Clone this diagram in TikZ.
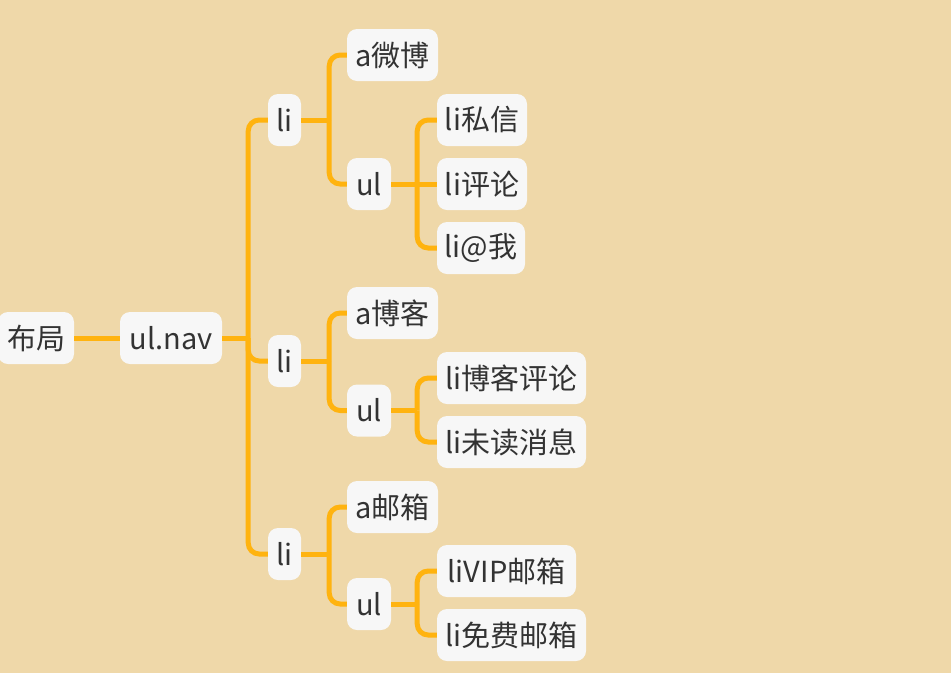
\documentclass[tikz,border=0pt]{standalone}
\usepackage{fontspec}
\setmainfont{Noto Sans CJK SC}
\definecolor{bg}{HTML}{EFD8A9}
\definecolor{ln}{HTML}{FFB30F}
\definecolor{bx}{HTML}{F7F7F7}
\definecolor{tx}{HTML}{333333}
\begin{document}
\begin{tikzpicture}[x=1pt,y=-1pt,
  box/.style={fill=bx, rounded corners=10pt, text=tx, font=\fontsize{29}{32}\selectfont, minimum height=52pt, inner sep=0pt, align=center},
  conn/.style={draw=ln, line width=5pt, rounded corners=11pt}]
\fill[bg] (0,0) rectangle (951,673);
\useasboundingbox (0,0) rectangle (951,673);
\node[box, minimum width=76pt] (root) at (36,338) {布局};
\node[box, minimum width=102pt] (ulnav) at (171,338) {ul.nav};
\node[box, minimum width=33pt] (li1) at (284.5,120) {li};
\node[box, minimum width=33pt] (li2) at (284.5,361) {li};
\node[box, minimum width=33pt] (li3) at (284.5,554) {li};
\node[box, minimum width=91pt] (a1) at (392.5,55) {a微博};
\node[box, minimum width=44pt] (ul1) at (369,184) {ul};
\node[box, minimum width=90pt] (l11) at (482,120) {li私信};
\node[box, minimum width=90pt] (l12) at (482,184) {li评论};
\node[box, minimum width=88pt] (l13) at (481,248) {li@我};
\node[box, minimum width=91pt] (a2) at (392.5,313) {a博客};
\node[box, minimum width=44pt] (ul2) at (369,410.5) {ul};
\node[box, minimum width=149pt] (l21) at (511.5,378) {li博客评论};
\node[box, minimum width=149pt] (l22) at (511.5,442) {li未读消息};
\node[box, minimum width=91pt] (a3) at (392.5,507) {a邮箱};
\node[box, minimum width=44pt] (ul3) at (369,604) {ul};
\node[box, minimum width=139pt] (l31) at (506.5,571) {liVIP邮箱};
\node[box, minimum width=149pt] (l32) at (511.5,635) {li免费邮箱};
\draw[conn] (root.east) -- (ulnav.west);
% stems from parents to their trunks
\draw[conn] (ulnav.east) -- ++(26,0);
\draw[conn] (li1.east) -- ++(28,0);
\draw[conn] (li2.east) -- ++(28,0);
\draw[conn] (li3.east) -- ++(28,0);
\draw[conn] (ul1.east) -- ++(26,0);
\draw[conn] (ul2.east) -- ++(26,0);
\draw[conn] (ul3.east) -- ++(26,0);
% trunks to children
\foreach \c in {li1,li2,li3} \draw[conn] (ulnav.east) ++(26,0) |- (\c.west);
\foreach \c in {a1,ul1} \draw[conn] (li1.east) ++(28,0) |- (\c.west);
\foreach \c in {a2,ul2} \draw[conn] (li2.east) ++(28,0) |- (\c.west);
\foreach \c in {a3,ul3} \draw[conn] (li3.east) ++(28,0) |- (\c.west);
\foreach \c in {l11,l13} \draw[conn] (ul1.east) ++(26,0) |- (\c.west);
\draw[conn] (ul1.east) -- (l12.west);
\foreach \c in {l21,l22} \draw[conn] (ul2.east) ++(26,0) |- (\c.west);
\foreach \c in {l31,l32} \draw[conn] (ul3.east) ++(26,0) |- (\c.west);
\end{tikzpicture}
\end{document}
